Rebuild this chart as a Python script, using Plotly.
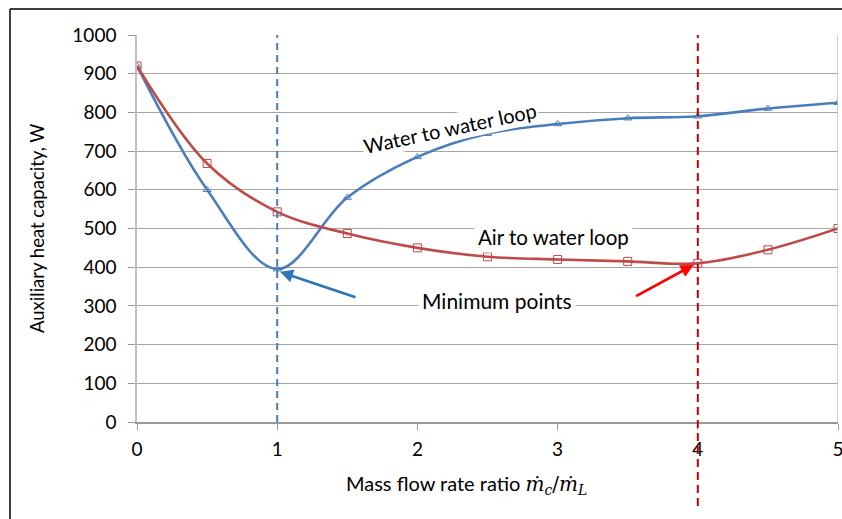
import plotly.graph_objects as go

ratio = [0, 0.5, 1, 1.5, 2, 2.5, 3, 3.5, 4, 4.5, 5]
water_loop = [920, 600, 395, 580, 685, 745, 770, 785, 790, 810, 825]
air_loop = [920, 668, 543, 487, 450, 427, 420, 415, 410, 445, 500]
y_ticks = list(range(0, 1001, 100))
x_ticks = [0, 1, 2, 3, 4, 5]

BLUE = "#4a7ebb"
RED = "#be4b48"
FONT = "Lato"

fig = go.Figure()
fig.add_trace(go.Scatter(
    x=ratio, y=water_loop, mode="lines+markers",
    line=dict(color=BLUE, width=2.6, shape="spline", smoothing=1.0),
    marker=dict(symbol="triangle-up-open", size=7, color=BLUE, line=dict(width=1)),
    name="Water to water loop", showlegend=False))
fig.add_trace(go.Scatter(
    x=ratio, y=air_loop, mode="lines+markers",
    line=dict(color=RED, width=2.6, shape="spline", smoothing=1.0),
    marker=dict(symbol="square-open", size=8, color=RED, line=dict(width=1)),
    name="Air to water loop", showlegend=False))

W, H = 842, 519
L, R, T, B = 137, 4, 35, 97
pw, ph = W - L - R, H - T - B

def px(xs):
    return (xs - L) / pw

def py(ys):
    return (H - B - ys) / ph

shapes = [
    dict(type="line", xref="x", yref="y", x0=1, x1=1, y0=0, y1=1000,
         line=dict(color=BLUE, width=2, dash="7px,5px")),
    dict(type="line", xref="x", yref="paper", x0=4, x1=4, y0=py(506), y1=1,
         line=dict(color="#c00000", width=2, dash="8px,5px")),
    dict(type="line", xref="x", yref="y", x0=5, x1=5, y0=0, y1=1000,
         line=dict(color="#bfbfbf", width=1.5)),
    dict(type="line", xref="paper", yref="paper", x0=px(10), x1=px(10), y0=py(530), y1=py(9),
         line=dict(color="black", width=1.5)),
    dict(type="line", xref="paper", yref="paper", x0=px(10), x1=px(860), y0=py(9), y1=py(9),
         line=dict(color="black", width=1.5)),
]

annotations = [
    dict(x=2.23, y=760, xref="x", yref="y", text="Water to water loop", showarrow=False,
         textangle=-12, font=dict(family=FONT, size=20, color="black"), bgcolor="white"),
    dict(x=2.97, y=478, xref="x", yref="y", text="Air to water loop", showarrow=False,
         font=dict(family=FONT, size=20.5, color="black"), bgcolor="white", borderpad=3),
    dict(x=2.57, y=315, xref="x", yref="y", text="Minimum points", showarrow=False,
         font=dict(family=FONT, size=21, color="black"), bgcolor="white", borderpad=3),
    dict(x=1.02, y=388, xref="x", yref="y", text="", showarrow=True, ax=77, ay=26,
         arrowhead=2, arrowsize=1, arrowwidth=2.6, arrowcolor="#2e75b6"),
    dict(x=3.97, y=406, xref="x", yref="y", text="", showarrow=True, ax=-59, ay=32,
         arrowhead=2, arrowsize=1, arrowwidth=2.6, arrowcolor="#ff0000"),
    dict(x=px(37), y=py(228), xref="paper", yref="paper", text="Auxiliary heat capacity, W",
         textangle=-90, showarrow=False, xanchor="center", yanchor="middle",
         font=dict(family=FONT, size=18.5, color="black")),
    dict(x=px(466), y=py(484), xref="paper", yref="paper",
         text='Mass flow rate ratio <span style="font-family:DejaVu Serif"><i>ṁ</i><sub><i>c</i></sub>/<i>ṁ</i><sub><i>L</i></sub></span>',
         showarrow=False, xanchor="center", yanchor="middle",
         font=dict(family=FONT, size=20, color="black")),
]

fig.update_layout(
    width=W, height=H,
    margin=dict(l=L, r=R, t=T, b=B, autoexpand=False),
    paper_bgcolor="white", plot_bgcolor="white",
    font=dict(family=FONT, size=19, color="black"),
    shapes=shapes, annotations=annotations,
    xaxis=dict(range=[0, 5], tickvals=x_ticks, showgrid=False, zeroline=False,
               showline=True, linecolor="#999999", linewidth=1.5,
               ticks="outside", ticklen=6, tickcolor="#999999", ticklabelstandoff=3,
               ticklabeloverflow="allow",
               tickfont=dict(family=FONT, size=19), automargin=False),
    yaxis=dict(range=[0, 1000], tickvals=y_ticks, showgrid=True, gridcolor="#a6a6a6", gridwidth=1,
               zeroline=False, showline=True, linecolor="#bfbfbf", linewidth=1.5,
               ticks="outside", ticklen=7, tickcolor="#999999", ticklabelstandoff=8,
               tickfont=dict(family=FONT, size=19), automargin=False),
)

fig.write_html("out.html", config={"displayModeBar": False},
               post_script="document.body.style.margin='0';document.body.style.overflow='hidden';")
